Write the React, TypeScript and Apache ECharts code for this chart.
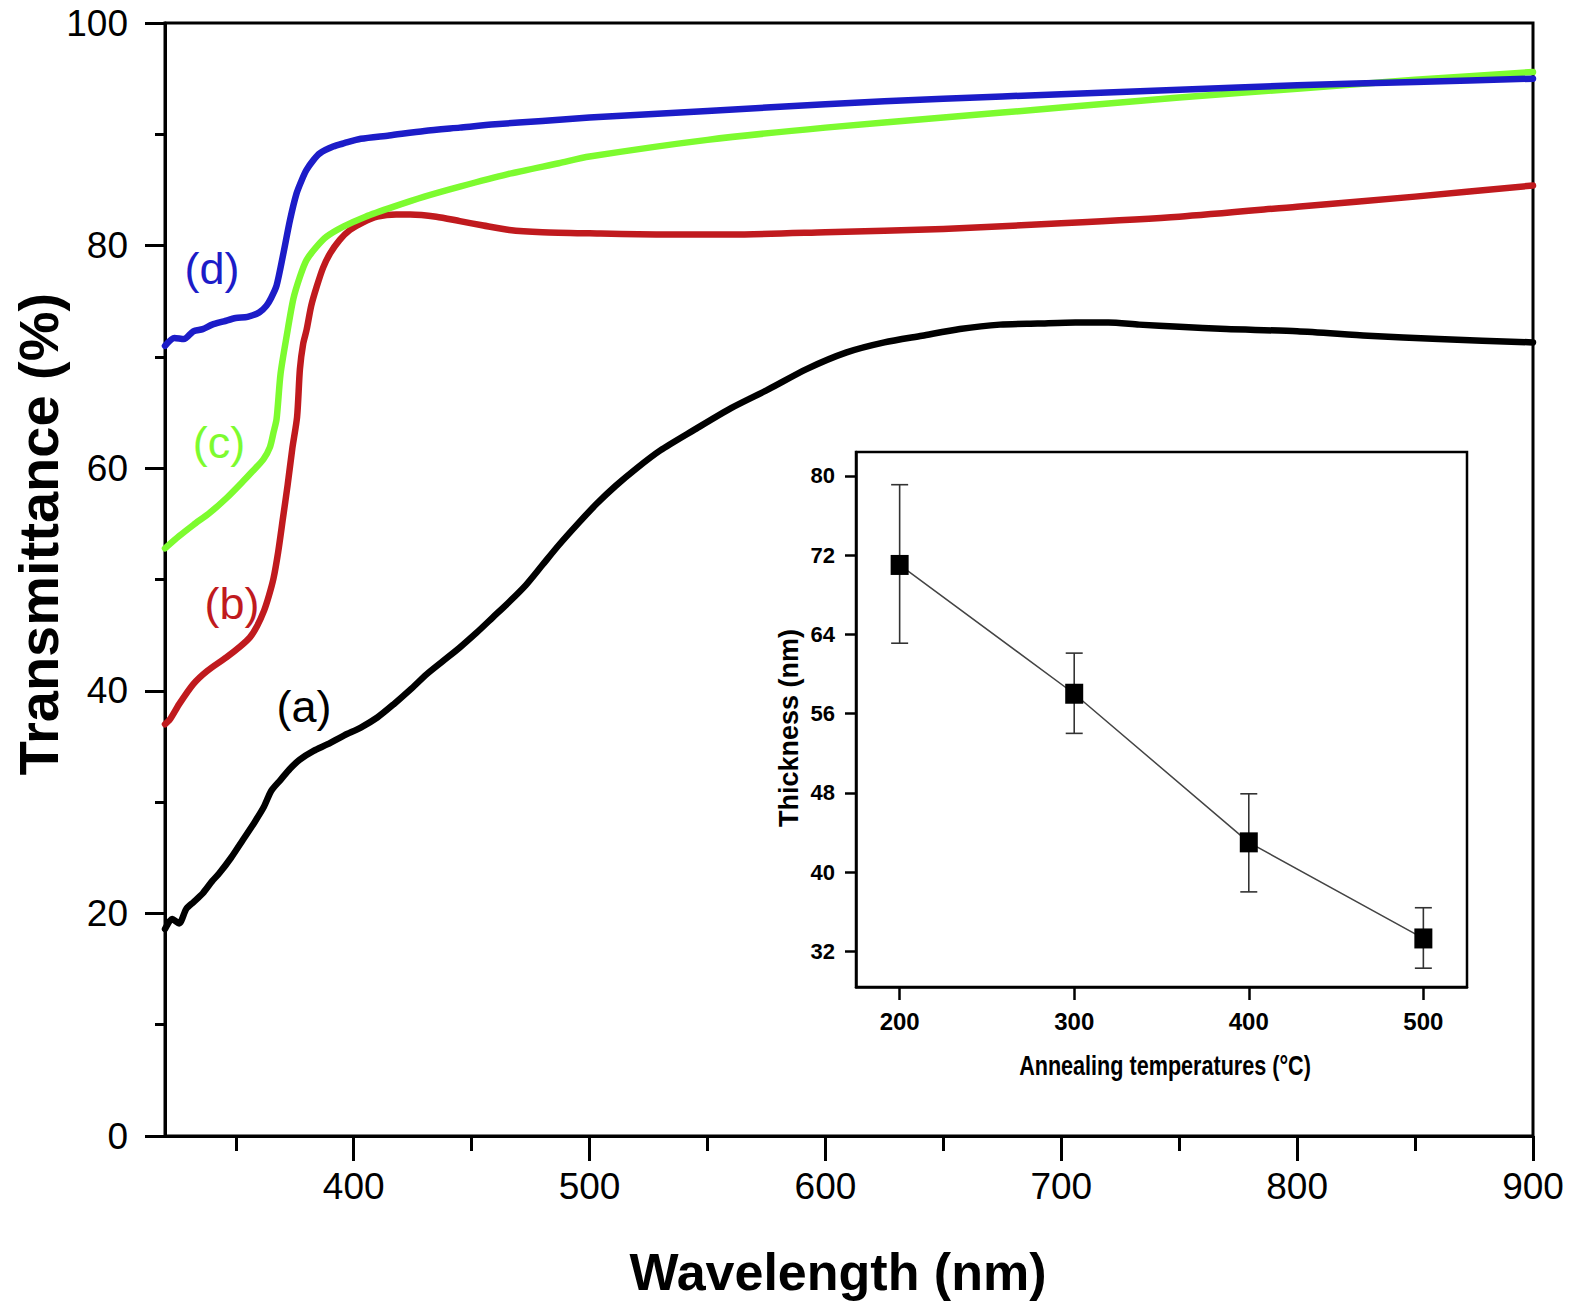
import React, { useEffect, useRef } from "react";
import * as echarts from "echarts";

// ---- Main plot: transmittance spectra ----
const wlA = [320, 323, 326, 329, 332, 336, 340, 343, 348, 353, 358, 362, 365, 369, 373, 377, 383, 389, 396, 403, 410, 417, 424, 431, 438, 445, 452, 459, 466, 473, 480, 487, 495, 503, 511, 520, 530, 544, 560, 576, 592, 609, 625, 641, 657, 674, 690, 706, 720, 733, 750, 770, 800, 830, 860, 900];
const tA = [18.6, 19.5, 19.1, 20.4, 21.0, 21.8, 22.9, 23.6, 25.0, 26.6, 28.2, 29.6, 31.0, 32.0, 33.0, 33.8, 34.6, 35.2, 36.0, 36.7, 37.6, 38.8, 40.1, 41.5, 42.7, 43.9, 45.2, 46.6, 48.0, 49.5, 51.3, 53.1, 55.0, 56.8, 58.4, 60.0, 61.6, 63.4, 65.4, 67.1, 68.9, 70.4, 71.3, 71.9, 72.5, 72.9, 73.0, 73.1, 73.1, 72.9, 72.7, 72.5, 72.3, 71.9, 71.6, 71.3];

const wlB = [320, 322, 326, 332, 338, 346, 352, 356, 359, 362, 364, 366, 368, 370, 372, 374, 376, 377.2, 378.6, 380, 382, 384.3, 387, 390, 394, 398.4, 404, 410, 418, 424, 435, 445, 455, 466, 480, 500, 530, 560, 600, 650, 700, 750, 800, 850, 900];
const tB = [37.0, 37.4, 38.8, 40.6, 41.8, 43.0, 44.0, 44.8, 45.8, 47.2, 48.5, 50.1, 52.5, 55.5, 58.5, 61.8, 64.6, 68.9, 71.2, 72.4, 74.6, 76.3, 78.0, 79.3, 80.5, 81.4, 82.1, 82.6, 82.8, 82.8, 82.6, 82.2, 81.8, 81.4, 81.2, 81.1, 81.0, 81.0, 81.2, 81.5, 82.0, 82.6, 83.5, 84.4, 85.4];

const wlC = [320, 326, 332, 339, 346, 353, 357, 361.7, 364.5, 366, 367.3, 369, 371.6, 374.4, 377.2, 380, 384.3, 388.5, 395.6, 405, 417, 430, 445, 465, 487, 500, 550, 600, 650, 700, 750, 800, 850, 900];
const tC = [52.8, 53.9, 54.9, 56.0, 57.3, 58.8, 59.7, 60.8, 61.9, 63.2, 64.4, 68.5, 71.9, 75.2, 77.2, 78.7, 79.9, 80.8, 81.7, 82.6, 83.5, 84.4, 85.3, 86.4, 87.4, 88.0, 89.5, 90.6, 91.5, 92.4, 93.3, 94.1, 94.9, 95.6];

const wlD = [320, 324, 328, 332, 336, 340, 345, 350, 355, 360, 363, 365, 367.3, 370.2, 373, 375.8, 378, 380, 383, 385.7, 391.3, 396, 403, 415, 430, 445, 460, 480, 500, 550, 600, 650, 700, 750, 800, 850, 900];
const tD = [71.0, 71.7, 71.6, 72.3, 72.5, 72.9, 73.2, 73.5, 73.6, 74.0, 74.6, 75.3, 76.4, 79.3, 82.3, 84.7, 85.9, 86.8, 87.7, 88.3, 88.9, 89.2, 89.6, 89.9, 90.3, 90.6, 90.9, 91.2, 91.5, 92.1, 92.7, 93.2, 93.6, 94.0, 94.4, 94.7, 95.0];

const xMajorTicks = [400, 500, 600, 700, 800, 900];
const xMinorTicks = [350, 450, 550, 650, 750, 850];

// ---- Inset: thickness vs annealing temperature ----
const annealTemps = [200, 300, 400, 500];
const thickness = [71.0, 58.0, 43.0, 33.3];
const thicknessLow = [63.1, 54.0, 38.0, 30.3];
const thicknessHigh = [79.1, 62.1, 47.9, 36.4];
const insetXTicks = [200, 300, 400, 500];
const insetYTicks = [32, 40, 48, 56, 64, 72, 80];

const SANS = "'Liberation Sans', Arial, sans-serif";

const pairs = (xs: number[], ys: number[]) => xs.map((x, i) => [x, ys[i]]);

export default function App() {
  const ref = useRef<HTMLDivElement>(null);
  useEffect(() => {
    if (!ref.current) return;
    const chart = echarts.init(ref.current, undefined, { renderer: "svg" });
    const lineSeries = (name: string, xs: number[], ys: number[], color: string) => ({
      name,
      type: "line",
      xAxisIndex: 0,
      yAxisIndex: 0,
      data: pairs(xs, ys),
      showSymbol: false,
      smooth: 0.25,
      lineStyle: { color, width: 6.5, join: "round", cap: "round" },
      itemStyle: { color },
      z: 3,
    });
    const capW = 8.5;
    const errStyle = { stroke: "#333", lineWidth: 1.6 };
    const option: any = {
      animation: false,
      backgroundColor: "#fff",
      grid: [
        { left: 165, top: 23, width: 1368, height: 1113, show: true, borderColor: "#000", borderWidth: 3, backgroundColor: "transparent" },
        { left: 856, top: 452, width: 611, height: 535, show: true, borderColor: "#000", borderWidth: 2.5, backgroundColor: "#fff" },
      ],
      xAxis: [
        {
          gridIndex: 0, type: "value", min: 320, max: 900, position: "bottom",
          axisLine: { show: true, lineStyle: { color: "#000", width: 3 } },
          axisTick: { show: true, customValues: xMajorTicks, length: 25, lineStyle: { color: "#000", width: 3 } },
          axisLabel: { show: true, customValues: xMajorTicks, fontSize: 37, color: "#000", fontFamily: SANS, margin: 32 },
          splitLine: { show: false },
        },
        {
          gridIndex: 0, type: "value", min: 320, max: 900, position: "bottom",
          axisLine: { show: false },
          axisTick: { show: true, customValues: xMinorTicks, length: 15, lineStyle: { color: "#000", width: 3 } },
          axisLabel: { show: false },
          splitLine: { show: false },
        },
        {
          gridIndex: 1, type: "value", min: 175, max: 525, position: "bottom",
          axisLine: { show: true, lineStyle: { color: "#000", width: 2.5 } },
          axisTick: { show: true, customValues: insetXTicks, length: 13, lineStyle: { color: "#000", width: 2.5 } },
          axisLabel: { show: true, customValues: insetXTicks, fontSize: 24, fontWeight: "bold", color: "#000", fontFamily: SANS, margin: 22 },
          splitLine: { show: false },
        },
      ],
      yAxis: [
        {
          gridIndex: 0, type: "value", min: 0, max: 100, interval: 20,
          axisLine: { show: true, lineStyle: { color: "#000", width: 3 } },
          axisTick: { show: true, length: 20, lineStyle: { color: "#000", width: 3 } },
          minorTick: { show: true, splitNumber: 2, length: 10, lineStyle: { color: "#000", width: 3 } },
          axisLabel: { fontSize: 37, color: "#000", fontFamily: SANS, margin: 37 },
          splitLine: { show: false },
          minorSplitLine: { show: false },
        },
        {
          gridIndex: 1, type: "value", min: 28.4, max: 82.4,
          axisLine: { show: true, lineStyle: { color: "#000", width: 2.5 } },
          axisTick: { show: true, customValues: insetYTicks, length: 11, lineStyle: { color: "#000", width: 2.5 } },
          axisLabel: { show: true, customValues: insetYTicks, fontSize: 22, fontWeight: "bold", color: "#000", fontFamily: SANS, margin: 21 },
          splitLine: { show: false },
        },
      ],
      series: [
        lineSeries("(a)", wlA, tA, "#000000"),
        lineSeries("(b)", wlB, tB, "#c01a1e"),
        lineSeries("(c)", wlC, tC, "#7dfb2f"),
        lineSeries("(d)", wlD, tD, "#1c1cc8"),
        {
          type: "custom",
          xAxisIndex: 2,
          yAxisIndex: 1,
          z: 4,
          data: annealTemps.map((t, i) => [t, thicknessLow[i], thicknessHigh[i]]),
          encode: { x: 0, y: [1, 2] },
          renderItem: (_p: any, api: any) => {
            const x = api.value(0);
            const hi = api.coord([x, api.value(2)]);
            const lo = api.coord([x, api.value(1)]);
            return {
              type: "group",
              children: [
                { type: "line", shape: { x1: hi[0], y1: hi[1], x2: lo[0], y2: lo[1] }, style: errStyle },
                { type: "line", shape: { x1: hi[0] - capW, y1: hi[1], x2: hi[0] + capW, y2: hi[1] }, style: errStyle },
                { type: "line", shape: { x1: lo[0] - capW, y1: lo[1], x2: lo[0] + capW, y2: lo[1] }, style: errStyle },
              ],
            };
          },
        },
        {
          type: "line",
          xAxisIndex: 2,
          yAxisIndex: 1,
          z: 5,
          data: pairs(annealTemps, thickness),
          symbol: "rect",
          symbolSize: [18, 20],
          showSymbol: true,
          lineStyle: { color: "#444", width: 1.5 },
          itemStyle: { color: "#000" },
        },
      ],
      graphic: [
        { type: "text", x: 38, y: 534, rotation: Math.PI / 2, style: { text: "Transmittance (%)", fontSize: 56, fontWeight: "bold", fontFamily: SANS, fill: "#000", textAlign: "center", textVerticalAlign: "middle" } },
        { type: "text", x: 838, y: 1272, style: { text: "Wavelength (nm)", fontSize: 52, fontWeight: "bold", fontFamily: SANS, fill: "#000", textAlign: "center", textVerticalAlign: "middle" } },
        { type: "text", x: 789, y: 728, rotation: Math.PI / 2, z: 10, style: { text: "Thickness (nm)", fontSize: 27, fontWeight: "bold", fontFamily: SANS, fill: "#000", textAlign: "center", textVerticalAlign: "middle" } },
        { type: "text", x: 1165, y: 1066, scaleX: 0.8, z: 10, style: { text: "Annealing temperatures (°C)", fontSize: 27, fontWeight: "bold", fontFamily: SANS, fill: "#000", textAlign: "center", textVerticalAlign: "middle" } },
        { type: "text", x: 212, y: 268, style: { text: "(d)", fontSize: 45, fontFamily: SANS, fill: "#1c1cc8", textAlign: "center", textVerticalAlign: "middle" } },
        { type: "text", x: 219, y: 442, style: { text: "(c)", fontSize: 45, fontFamily: SANS, fill: "#7dfb2f", textAlign: "center", textVerticalAlign: "middle" } },
        { type: "text", x: 232, y: 603, style: { text: "(b)", fontSize: 45, fontFamily: SANS, fill: "#c01a1e", textAlign: "center", textVerticalAlign: "middle" } },
        { type: "text", x: 304, y: 706, style: { text: "(a)", fontSize: 45, fontFamily: SANS, fill: "#000", textAlign: "center", textVerticalAlign: "middle" } },
      ],
    };
    chart.setOption(option);
    return () => chart.dispose();
  }, []);
  return <div ref={ref} style={{ position: "absolute", left: 0, top: 0, width: 1575, height: 1313 }} />;
}
